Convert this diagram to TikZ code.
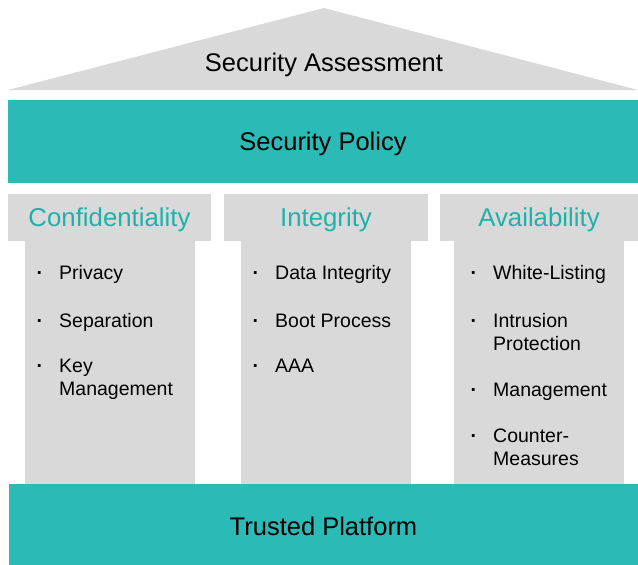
\documentclass[tikz,border=0pt]{standalone}
\usepackage{fontspec}
\setmainfont{Liberation Sans}
\usetikzlibrary{positioning}
\definecolor{barteal}{RGB}{42,187,182}
\definecolor{headteal}{RGB}{30,178,170}
\definecolor{stonegray}{RGB}{217,217,217}
\newcommand{\itemdot}{\llap{\textbf{\textperiodcentered}\hspace{16pt}}}

\begin{document}
\begin{tikzpicture}[x=1pt, y=-1pt,
   title/.style={inner sep=0pt, text height=18pt, text depth=0pt, font=\fontsize{25.5}{30}\selectfont},
   bar/.style={title, fill=barteal, minimum width=630pt, minimum height=83pt},
   capital/.style={title, fill=stonegray, minimum height=47pt, text=headteal, font=\fontsize{25.8}{30}\selectfont},
   shaft/.style={fill=stonegray, minimum width=170pt, minimum height=243pt, inner sep=0pt},
   item/.style={anchor=base west, align=left, inner sep=0pt, font=\fontsize{19.5}{23}\selectfont}]
   \useasboundingbox (0,0) rectangle (638,565);

   \fill[stonegray] (8,90) -- (324,8) -- (638,90) -- cycle;
   \node[title] (assess) at (324,62.7) {Security Assessment};
   \node[bar] (policy) at (323,141.5) {Security Policy};

   \node[capital, minimum width=203pt] (conf) at (109.5,217.5) {Confidentiality};
   \node[capital, minimum width=204pt] (integ) at (326,217.5) {Integrity};
   \node[capital, minimum width=198pt] (avail) at (539,217.5) {Availability};

   \node[shaft] (conf_shaft) [below=0pt of conf] {};
   \node[shaft] (integ_shaft) [below=0pt of integ] {};
   \node[shaft] (avail_shaft) [below=0pt of avail] {};

   \node[bar, minimum width=629pt, minimum height=81pt, text height=22pt] (platform) at (323.5,524.5) {Trusted Platform};

   \node[item] (privacy) at (59,279) {\itemdot Privacy};
   \node[item] (separation) at (59,327) {\itemdot Separation};
   \node[item] (keymgmt) at (59,395) {\itemdot Key\\Management};

   \node[item] (dataint) at (275,279) {\itemdot Data Integrity};
   \node[item] (boot) at (275,327) {\itemdot Boot Process};
   \node[item] (aaa) at (275,372) {\itemdot AAA};

   \node[item] (whitelist) at (493,279) {\itemdot White-Listing};
   \node[item] (intrusion) at (493,350) {\itemdot Intrusion\\Protection};
   \node[item] (mgmt) at (493,396) {\itemdot Management};
   \node[item] (counter) at (493,465) {\itemdot Counter-\\Measures};
\end{tikzpicture}
\end{document}
